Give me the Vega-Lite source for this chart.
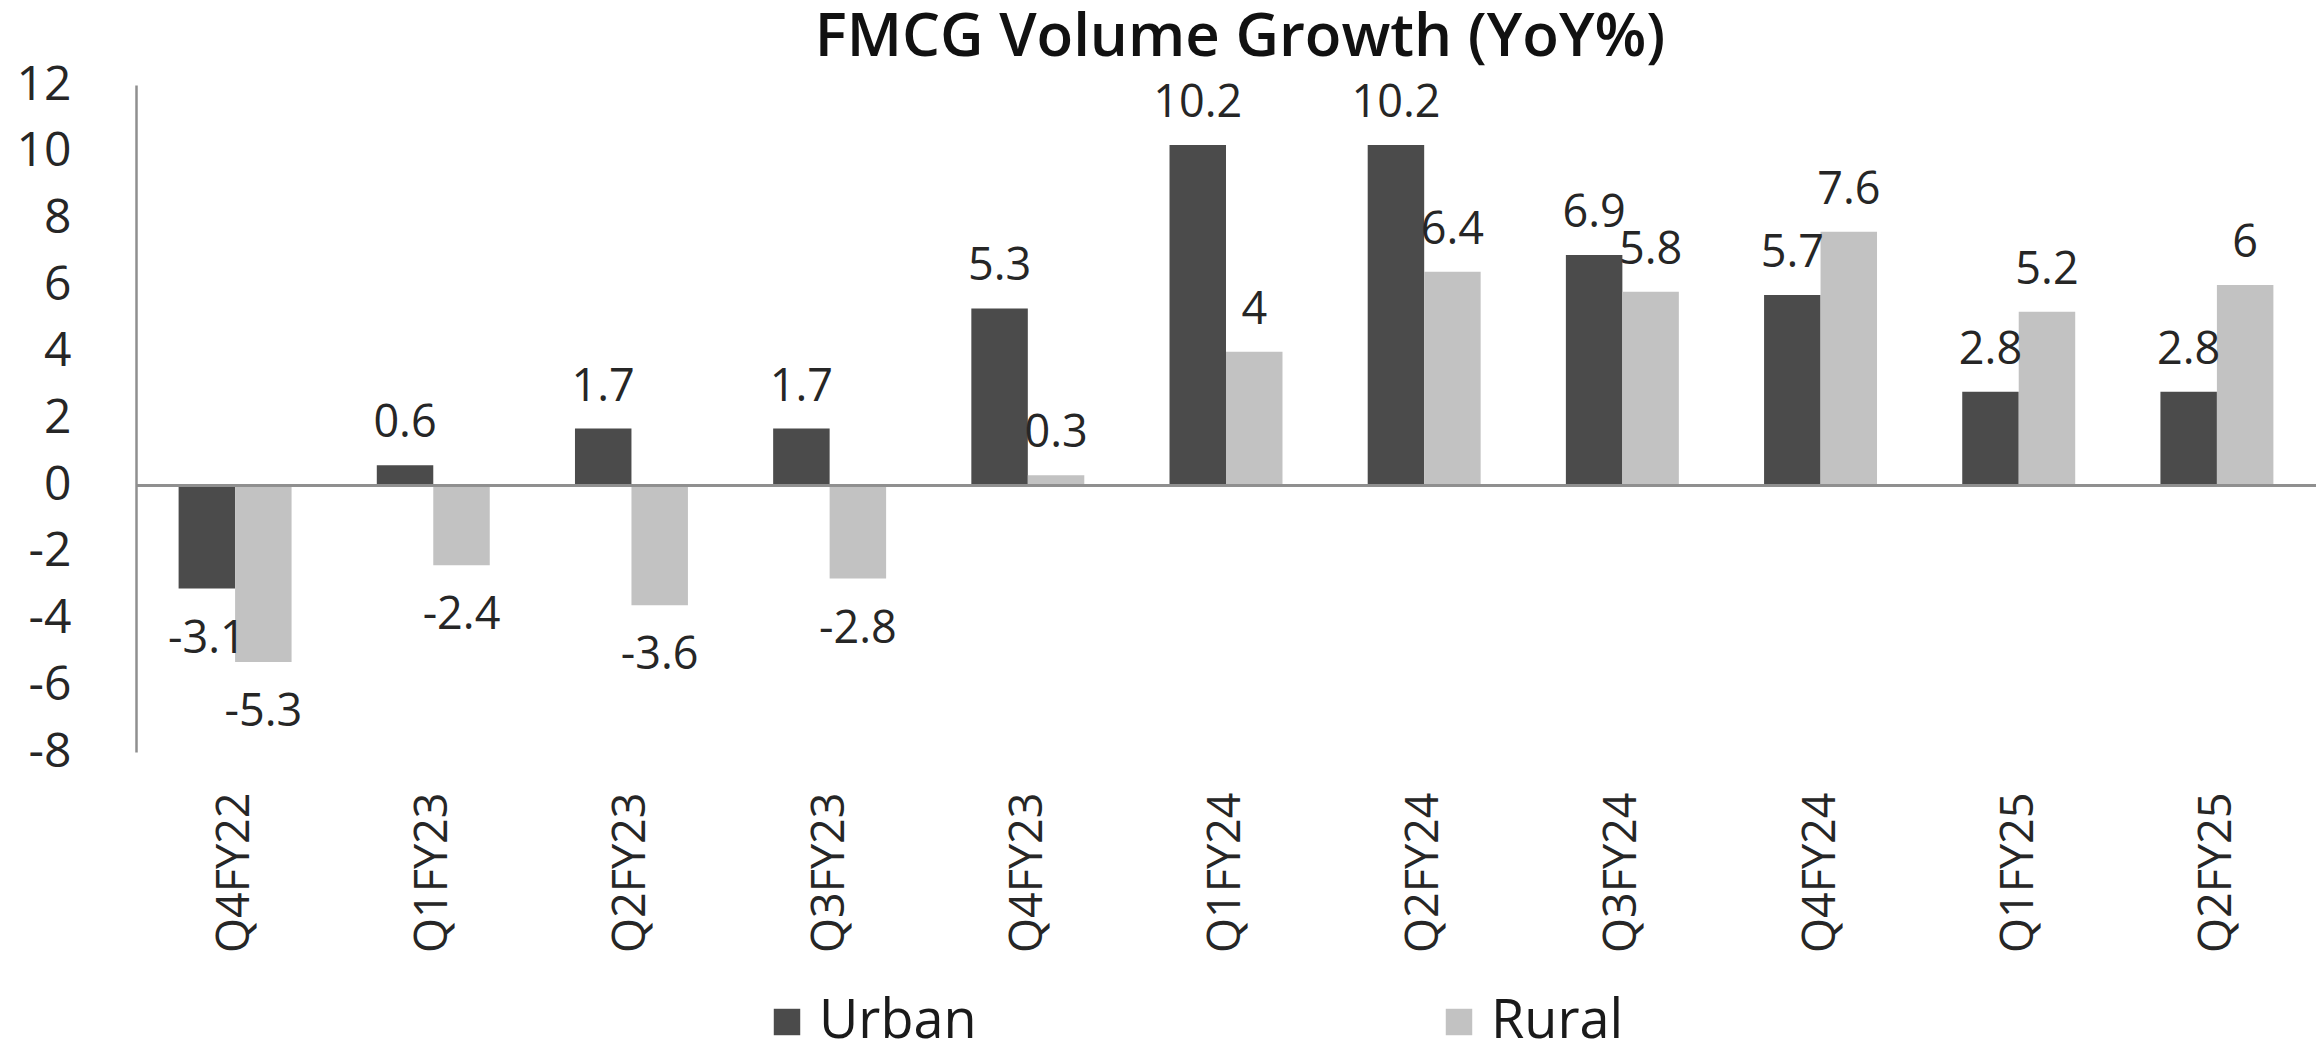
{
  "$schema": "https://vega.github.io/schema/vega-lite/v6.json",
  "width": 2180,
  "height": 667,
  "autosize": {"type": "none"},
  "padding": {"left": 136, "top": 85, "right": 7, "bottom": 299},
  "background": "white",
  "config": {"font": "Open Sans", "view": {"stroke": null}},
  "title": {"text": "FMCG Volume Growth (YoY%)", "fontSize": 60, "fontWeight": 600, "color": "#111111", "anchor": "middle", "frame": "group", "offset": -8, "dx": 14},
  "data": {
    "values": [
      {"quarter": "Q4FY22", "series": "Urban", "value": -3.1},
      {"quarter": "Q4FY22", "series": "Rural", "value": -5.3},
      {"quarter": "Q1FY23", "series": "Urban", "value": 0.6},
      {"quarter": "Q1FY23", "series": "Rural", "value": -2.4},
      {"quarter": "Q2FY23", "series": "Urban", "value": 1.7},
      {"quarter": "Q2FY23", "series": "Rural", "value": -3.6},
      {"quarter": "Q3FY23", "series": "Urban", "value": 1.7},
      {"quarter": "Q3FY23", "series": "Rural", "value": -2.8},
      {"quarter": "Q4FY23", "series": "Urban", "value": 5.3},
      {"quarter": "Q4FY23", "series": "Rural", "value": 0.3},
      {"quarter": "Q1FY24", "series": "Urban", "value": 10.2},
      {"quarter": "Q1FY24", "series": "Rural", "value": 4},
      {"quarter": "Q2FY24", "series": "Urban", "value": 10.2},
      {"quarter": "Q2FY24", "series": "Rural", "value": 6.4},
      {"quarter": "Q3FY24", "series": "Urban", "value": 6.9},
      {"quarter": "Q3FY24", "series": "Rural", "value": 5.8},
      {"quarter": "Q4FY24", "series": "Urban", "value": 5.7},
      {"quarter": "Q4FY24", "series": "Rural", "value": 7.6},
      {"quarter": "Q1FY25", "series": "Urban", "value": 2.8},
      {"quarter": "Q1FY25", "series": "Rural", "value": 5.2},
      {"quarter": "Q2FY25", "series": "Urban", "value": 2.8},
      {"quarter": "Q2FY25", "series": "Rural", "value": 6}
    ]
  },
  "layer": [
    {
      "encoding": {
        "x": {
          "field": "quarter", "type": "nominal", "sort": null,
          "scale": {"paddingInner": 0.43, "paddingOuter": 0.215},
          "axis": {"title": null, "labelAngle": -90, "domain": false, "ticks": false, "labelPadding": 40, "labelFontSize": 45, "labelColor": "#262626", "labelFont": "Open Sans"}
        },
        "xOffset": {"field": "series", "type": "nominal", "scale": {"domain": ["Urban", "Rural"], "paddingInner": 0, "paddingOuter": 0}},
        "y": {
          "field": "value", "type": "quantitative",
          "scale": {"domain": [-8, 12], "nice": false, "zero": false},
          "axis": {"title": null, "domain": true, "domainColor": "#8f8f8f", "domainWidth": 2.5, "ticks": false, "grid": false, "values": [-8, -6, -4, -2, 0, 2, 4, 6, 8, 10, 12], "labelPadding": 65, "labelFontSize": 48, "labelColor": "#262626", "labelFont": "Open Sans", "labelExpr": "'' + datum.value"}
        }
      },
      "layer": [
        {
          "mark": {"type": "bar"},
          "encoding": {
            "color": {
              "field": "series", "type": "nominal",
              "scale": {"domain": ["Urban", "Rural"], "range": ["#4b4b4b", "#c2c2c2"]},
              "legend": {"title": null, "orient": "none", "legendX": 624, "legendY": 910, "direction": "horizontal", "symbolType": "square", "symbolSize": 700, "symbolStrokeWidth": 0, "labelFontSize": 54, "labelColor": "#1a1a1a", "labelFont": "Open Sans", "labelOffset": 5, "columnPadding": 455, "labelLimit": 600, "padding": 0}
            }
          }
        },
        {
          "transform": [{"filter": "datum.value >= 0"}],
          "mark": {"type": "text", "dy": -42, "fontSize": 45, "baseline": "middle", "align": "center", "color": "#262626"},
          "encoding": {"text": {"field": "value", "type": "nominal"}}
        },
        {
          "transform": [{"filter": "datum.value < 0"}],
          "mark": {"type": "text", "dy": 50, "fontSize": 45, "baseline": "middle", "align": "center", "color": "#262626"},
          "encoding": {"text": {"field": "value", "type": "nominal"}}
        }
      ]
    },
    {
      "mark": {"type": "rule", "color": "#8f8f8f", "strokeWidth": 2.5},
      "encoding": {"y": {"datum": 0, "type": "quantitative"}}
    }
  ]
}
